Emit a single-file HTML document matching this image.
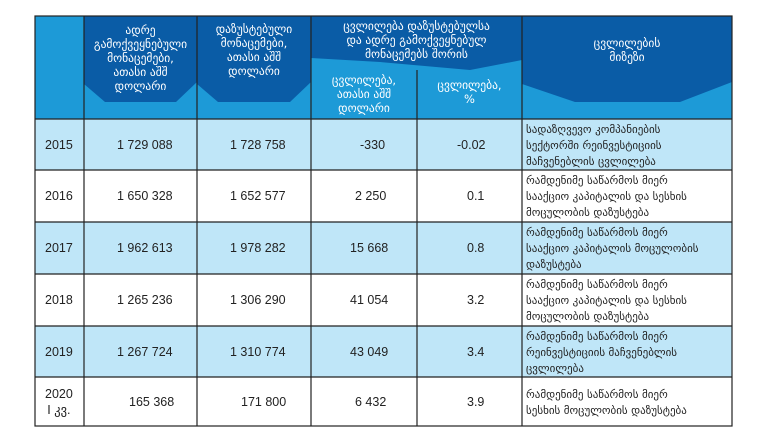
<!DOCTYPE html>
<html><head><meta charset="utf-8"><style>
body{margin:0;width:764px;height:436px;background:#fff;position:relative;overflow:hidden;font-family:"Liberation Sans","DejaVu Sans",sans-serif}
.t{position:absolute;display:flex;align-items:center;justify-content:center;text-align:center;color:#fff;font-size:11.5px;line-height:14px;font-family:"DejaVu Sans",sans-serif}
.c{position:absolute;display:flex;align-items:center;font-size:12.5px;color:#222}
.r{position:absolute;font-size:11px;line-height:16px;color:#222;font-family:"DejaVu Sans",sans-serif;left:526px;width:205px;white-space:nowrap;display:flex;align-items:center}
</style></head><body>
<svg width="764" height="436" style="position:absolute;left:0;top:0">
<rect x="35" y="16" width="697" height="103" fill="#1d9ad7"/>
<polygon points="84,16 197,16 197,82 176,102 105,102 84,84" fill="#0a5ca6"/>
<polygon points="197,16 311,16 311,82 290,102 218,102 197,84" fill="#0a5ca6"/>
<polygon points="311,16 522,16 522,60 470,70 380,62 311,58" fill="#0a5ca6"/>
<polygon points="522,16 732,16 732,82 680,102 575,102 522,84" fill="#0a5ca6"/>
<rect x="35" y="119" width="697" height="51" fill="#bfe6f8"/>
<rect x="35" y="222" width="697" height="52" fill="#bfe6f8"/>
<rect x="35" y="326" width="697" height="51" fill="#bfe6f8"/>
<g stroke="#222" stroke-width="1.2" fill="none">
<rect x="35" y="16" width="697" height="410"/>
<line x1="84" y1="16" x2="84" y2="426"/><line x1="197" y1="16" x2="197" y2="426"/>
<line x1="311" y1="16" x2="311" y2="426"/><line x1="417" y1="70" x2="417" y2="426"/>
<line x1="522" y1="16" x2="522" y2="426"/>
<line x1="35" y1="119" x2="732" y2="119"/><line x1="35" y1="170" x2="732" y2="170"/>
<line x1="35" y1="222" x2="732" y2="222"/><line x1="35" y1="274" x2="732" y2="274"/>
<line x1="35" y1="326" x2="732" y2="326"/><line x1="35" y1="377" x2="732" y2="377"/>
</g></svg>
<div class="t" style="left:84px;top:20px;width:113px;height:76px">ადრე<br>გამოქვეყნებული<br>მონაცემები,<br>ათასი აშშ<br>დოლარი</div>
<div class="t" style="left:197px;top:20px;width:114px;height:60px">დაზუსტებული<br>მონაცემები,<br>ათასი აშშ<br>დოლარი</div>
<div class="t" style="left:311px;top:18px;width:211px;height:44px">ცვლილება დაზუსტებულსა<br>და ადრე გამოქვეყნებულ<br>მონაცემებს შორის</div>
<div class="t" style="left:311px;top:72px;width:106px;height:44px">ცვლილება,<br>ათასი აშშ<br>დოლარი</div>
<div class="t" style="left:417px;top:72px;width:105px;height:40px">ცვლილება,<br>%</div>
<div class="t" style="left:522px;top:22px;width:210px;height:56px">ცვლილების<br>მიზეზი</div>

<div class="c" style="left:45px;top:119px;height:51px">2015</div>
<div class="c" style="left:117px;top:119px;height:51px">1 729 088</div>
<div class="c" style="left:230px;top:119px;height:51px">1 728 758</div>
<div class="c" style="left:360px;top:119px;height:51px">-330</div>
<div class="c" style="left:457px;top:119px;height:51px">-0.02</div>
<div class="r" style="top:121px;height:49px">სადაზღვევო კომპანიების<br>სექტორში რეინვესტიციის<br>მაჩვენებლის ცვლილება</div>

<div class="c" style="left:45px;top:170px;height:52px">2016</div>
<div class="c" style="left:117px;top:170px;height:52px">1 650 328</div>
<div class="c" style="left:230px;top:170px;height:52px">1 652 577</div>
<div class="c" style="left:355px;top:170px;height:52px">2 250</div>
<div class="c" style="left:467px;top:170px;height:52px">0.1</div>
<div class="r" style="top:172px;height:50px">რამდენიმე საწარმოს მიერ<br>სააქციო კაპიტალის და სესხის<br>მოცულობის დაზუსტება</div>

<div class="c" style="left:45px;top:222px;height:52px">2017</div>
<div class="c" style="left:117px;top:222px;height:52px">1 962 613</div>
<div class="c" style="left:230px;top:222px;height:52px">1 978 282</div>
<div class="c" style="left:350px;top:222px;height:52px">15 668</div>
<div class="c" style="left:467px;top:222px;height:52px">0.8</div>
<div class="r" style="top:224px;height:50px">რამდენიმე საწარმოს მიერ<br>სააქციო კაპიტალის მოცულობის<br>დაზუსტება</div>

<div class="c" style="left:45px;top:274px;height:52px">2018</div>
<div class="c" style="left:117px;top:274px;height:52px">1 265 236</div>
<div class="c" style="left:230px;top:274px;height:52px">1 306 290</div>
<div class="c" style="left:350px;top:274px;height:52px">41 054</div>
<div class="c" style="left:467px;top:274px;height:52px">3.2</div>
<div class="r" style="top:276px;height:50px">რამდენიმე საწარმოს მიერ<br>სააქციო კაპიტალის და სესხის<br>მოცულობის დაზუსტება</div>

<div class="c" style="left:45px;top:326px;height:51px">2019</div>
<div class="c" style="left:117px;top:326px;height:51px">1 267 724</div>
<div class="c" style="left:230px;top:326px;height:51px">1 310 774</div>
<div class="c" style="left:350px;top:326px;height:51px">43 049</div>
<div class="c" style="left:467px;top:326px;height:51px">3.4</div>
<div class="r" style="top:328px;height:49px">რამდენიმე საწარმოს მიერ<br>რეინვესტიციის მაჩვენებლის<br>ცვლილება</div>

<div class="c" style="left:45px;top:379px;height:45px;line-height:16px;text-align:center">2020<br>I კვ.</div>
<div class="c" style="left:129px;top:377px;height:49px">165 368</div>
<div class="c" style="left:241px;top:377px;height:49px">171 800</div>
<div class="c" style="left:355px;top:377px;height:49px">6 432</div>
<div class="c" style="left:467px;top:377px;height:49px">3.9</div>
<div class="r" style="top:379px;height:47px">რამდენიმე საწარმოს მიერ<br>სესხის მოცულობის დაზუსტება</div>
</body></html>
